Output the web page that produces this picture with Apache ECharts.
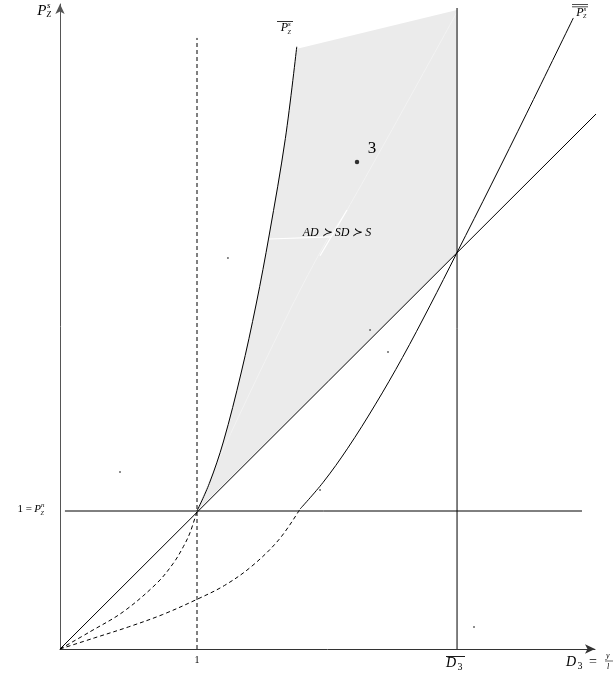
<!DOCTYPE html>
<html><head><meta charset="utf-8">
<script src="https://cdn.jsdelivr.net/npm/echarts@6/dist/echarts.min.js"></script>
<style>html,body{margin:0;padding:0;background:#fff}#c{width:613px;height:676px}</style>
</head><body><div id="c"></div>
<script>
// ---- data (in chart units: x = D3, y = P_Z^s) ----
const xRange = [0, 3.905];
const yRange = [0, 4.674];
const D3bar = 2.898;
const leftCurve = [[1,1],[1.09,1.2],[1.192,1.5],[1.322,2.0],[1.432,2.5],[1.527,3.0],[1.645,3.7],[1.728,4.364]];
const rightCurve = [[1.752,1.014],[1.92,1.207],[2.10,1.455],[2.30,1.769],[2.50,2.113],[2.70,2.487],[2.896,2.869],[3.15,3.369],[3.407,3.883],[3.747,4.573]];
const lowerDashed = [[0,0],[0.25,0.08],[0.5,0.16],[0.75,0.25],[1.0,0.36],[1.2,0.46],[1.4,0.6],[1.6,0.795],[1.752,1.014]];
const upperDashed = [[0,0],[0.219,0.125],[0.462,0.270],[0.706,0.476],[0.827,0.621],[0.900,0.741],[0.95,0.845],[1,1]];
const diagonal = [[0,0],[3.942,3.906]];
const horizontal = [[0.036,1],[3.81,1]];
const d3Line = [[D3bar,0],[D3bar,4.645]];
const oneLine = [[1,0],[1,4.428]];
const shadeExtra = [[1.739,4.352],[D3bar,4.630],[D3bar,2.872]];
const faintLine = [[1,1],[1.190,1.442],[1.679,2.457],[1.949,2.964],[2.095,3.181],[D3bar,4.616]];
const whiteSeg1 = [[1.526,2.971],[1.978,2.986]];
const whiteSeg2 = [[1.898,2.850],[2.095,3.181]];
const specks = [[1.226,2.833],[0.438,1.283],[2.263,2.312],[2.394,2.152],[1.898,1.152],[3.022,0.159]];
const point3 = [[2.168,3.529]];

const shadePoly = leftCurve.concat(shadeExtra);

const chart = echarts.init(document.getElementById('c'), null, {renderer:'canvas'});

function lineSeries(data, opts) {
  return Object.assign({
    type:'line', data:data, symbol:'none', showSymbol:false, clip:false,
    lineStyle:{color:'#000', width:1}, z:3, silent:true
  }, opts||{});
}

const SERIF = '"Liberation Serif","DejaVu Serif",serif';
function txt(x, y, text, size, italic, align) {
  return {type:'text', x:x, y:y, silent:true, z:10, style:{
    text:text, font:(italic?'italic ':'')+size+'px '+SERIF, fill:'#000',
    textAlign:align||'left', align:align||'left', textVerticalAlign:'middle', verticalAlign:'middle'}};
}
function hline(x1, x2, y, w) {
  return {type:'line', silent:true, z:10, shape:{x1:x1,y1:y,x2:x2,y2:y}, style:{stroke:'#000', lineWidth:w||0.8}};
}

const graphics = [
  // y-axis title P_Z^s
  txt(46.5, 11, 'P', 15, true, 'right'), txt(47, 6, 's', 9, true), txt(46.5, 15, 'Z', 8, true),
  // 1 = P_Z^n
  txt(32, 509, '1 =', 11, false, 'right'), txt(41, 509, 'P', 11, true, 'right'),
  txt(41, 505, 'n', 7, true), txt(40.5, 513, 'Z', 6, true),
  // x tick 1
  txt(197, 660, '1', 10, false, 'center'),
  // D3 bar
  txt(446, 663, 'D', 14, true), txt(457.5, 667, '3', 10, false), hline(446, 465, 656.5, 0.9),
  // D3 = y/l
  txt(566, 662, 'D', 14, true), txt(577.5, 666, '3', 10, false), txt(589, 662, '=', 14, false),
  txt(606, 656, 'y', 8, true), hline(605, 613, 661, 0.6), txt(607, 667, 'l', 8, true),
  // left curve label (single overline)
  txt(288, 28, 'P', 12, true, 'right'), txt(288, 24, 's', 7, true), txt(287.5, 32, 'Z', 6, true), hline(277, 293, 21.5, 0.8),
  // right curve label (double overline)
  txt(583.5, 12.5, 'P', 12, true, 'right'), txt(583.5, 9, 's', 7, true), txt(583, 16.5, 'Z', 6, true),
  hline(572, 588, 4.5, 0.7), hline(572, 588, 6.8, 0.7),
  // region labels
  txt(372, 149, '3', 17, false, 'center'),
  txt(337, 233, 'AD \u227B SD \u227B S', 12, true, 'center')
];

chart.setOption({
  animation:false,
  backgroundColor:'#fff',
  grid:{left:60, right:18, top:4, bottom:27},
  xAxis:{type:'value', min:xRange[0], max:xRange[1],
    axisLine:{show:true, onZero:false, symbol:['none','arrow'], symbolSize:[7,10], lineStyle:{color:'#333', width:1}},
    axisTick:{show:false}, axisLabel:{show:false}, splitLine:{show:false}},
  yAxis:{type:'value', min:yRange[0], max:yRange[1],
    axisLine:{show:true, onZero:false, symbol:['none','arrow'], symbolSize:[7,10], lineStyle:{color:'#555', width:1}},
    axisTick:{show:false}, axisLabel:{show:false}, splitLine:{show:false}},
  series:[
    {type:'custom', silent:true, z:1, clip:false, data:[[0,0]],
      renderItem:function(params, api){
        const pts = shadePoly.map(p => api.coord(p));
        return {type:'polygon', shape:{points:pts}, style:{fill:'#ebebeb', stroke:null}};
      }},
    lineSeries(faintLine, {smooth:0.3, z:2, lineStyle:{color:'#f3f3f3', width:1}}),
    lineSeries(whiteSeg1, {z:2, lineStyle:{color:'#ffffff', width:1.2}}),
    lineSeries(whiteSeg2, {z:2, lineStyle:{color:'#ffffff', width:1.2}}),
    lineSeries(leftCurve, {smooth:0.35}),
    lineSeries(rightCurve, {smooth:0.35}),
    lineSeries(lowerDashed, {smooth:0.35, lineStyle:{color:'#000', width:1, type:[4,3]}}),
    lineSeries(upperDashed, {smooth:0.35, lineStyle:{color:'#000', width:1, type:[4,3]}}),
    lineSeries(oneLine, {lineStyle:{color:'#000', width:1, type:[4,3]}}),
    lineSeries(diagonal),
    lineSeries(horizontal),
    lineSeries(d3Line),
    {type:'scatter', data:specks, symbolSize:2, silent:true, z:4, itemStyle:{color:'#444'}},
    {type:'scatter', data:point3, symbolSize:4.5, silent:true, z:4, itemStyle:{color:'#000'}}
  ],
  graphic:graphics
});
</script>
</body></html>
